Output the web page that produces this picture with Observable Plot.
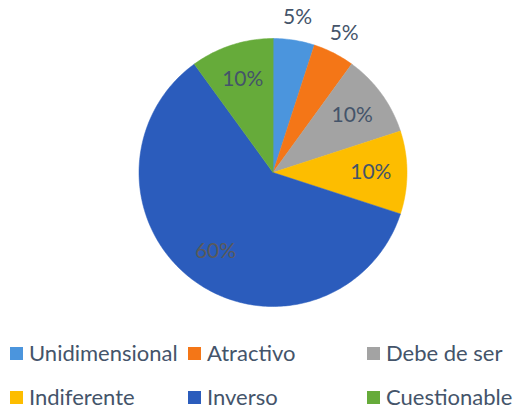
<!DOCTYPE html>
<html><head><meta charset="utf-8">
<script src="https://cdn.jsdelivr.net/npm/d3@7"></script>
<script src="https://cdn.jsdelivr.net/npm/@observablehq/plot@0.6"></script>
<style>
body{margin:0;background:#fff;}
#wrap{position:relative;width:516px;height:413px;font-family:Lato,"Open Sans",sans-serif;overflow:hidden;}
#chart{position:absolute;left:0;top:0;}
.leg{position:absolute;display:flex;align-items:center;font-size:22px;line-height:26px;color:#44546a;white-space:nowrap;}
.sw{width:13px;height:13px;margin-right:6px;}
</style></head><body><div id="wrap"><div id="chart"></div></div>
<script>
const categories = ["Unidimensional","Atractivo","Debe de ser","Indiferente","Inverso","Cuestionable"];
const values = [5,5,10,10,60,10];
const labels = ["5%","5%","10%","10%","60%","10%"];
const colors = ["#4b95dd","#f47617","#a3a3a3","#fdbd00","#2b5cbc","#66ab3a"];

const arcs = d3.pie().sort(null).value(d => d)(values);
const slices = arcs.map((a, i) => {
  const n = Math.max(8, Math.ceil((a.endAngle - a.startAngle) * 60));
  const ring = [[0, 0]];
  for (let k = 0; k <= n; k++) {
    const t = a.startAngle + (a.endAngle - a.startAngle) * k / n;
    ring.push([Math.sin(t), Math.cos(t)]);
  }
  ring.push([0, 0]);
  return {type: "Feature", properties: {cat: categories[i], color: colors[i]}, geometry: {type: "Polygon", coordinates: [ring]}};
});
const labelData = arcs.map((a, i) => {
  const m = (a.startAngle + a.endAngle) / 2;
  const r = values[i] < 8 ? 1.17 : 0.73;
  return {x: r * Math.sin(m), y: r * Math.cos(m), text: labels[i], big: values[i] > 50};
});

const plot = Plot.plot({
  width: 516, height: 330,
  marginLeft: 138, marginRight: 109, marginTop: 38, marginBottom: 24,
  projection: {type: "reflect-y", clip: false, domain: {type: "MultiPoint", coordinates: [[-1, -1], [1, 1]]}},
  style: {background: "transparent"},
  marks: [
    Plot.geo(slices, {fill: d => d.properties.color, stroke: d => d.properties.color, strokeWidth: 0.5}),
    Plot.text(labelData, {x: "x", y: "y", text: "text", clip: false, fill: d => d.big ? "#5a5a5a" : "#44546a",
      fontSize: 21, fontFamily: "Lato, 'Open Sans', sans-serif"})
  ]
});
document.getElementById("chart").appendChild(plot);

const wrap = document.getElementById("wrap");
const colX = [10, 188, 367];
const rowY = [353, 397];
categories.forEach((c, i) => {
  const div = document.createElement("div");
  div.className = "leg";
  div.style.left = colX[i % 3] + "px";
  div.style.top = (rowY[Math.floor(i / 3)] - 13) + "px";
  const sw = document.createElement("span");
  sw.className = "sw";
  sw.style.background = colors[i];
  div.appendChild(sw);
  div.appendChild(document.createTextNode(c));
  wrap.appendChild(div);
});
</script></body></html>
